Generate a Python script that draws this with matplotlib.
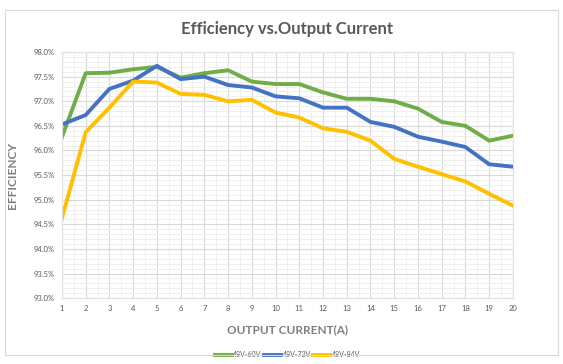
import matplotlib.pyplot as plt
from matplotlib.patches import Rectangle
from matplotlib.ticker import MultipleLocator, FuncFormatter

plt.rcParams['font.family'] = ['Lato', 'DejaVu Sans']

current = list(range(1, 21))
eff_60v = [96.27, 97.57, 97.58, 97.65, 97.70, 97.48, 97.57, 97.63, 97.40, 97.35,
           97.35, 97.18, 97.05, 97.05, 97.00, 96.85, 96.58, 96.50, 96.20, 96.30]
eff_72v = [96.53, 96.72, 97.25, 97.42, 97.72, 97.45, 97.50, 97.33, 97.28, 97.10,
           97.06, 96.87, 96.87, 96.58, 96.48, 96.28, 96.18, 96.07, 95.72, 95.67]
eff_84v = [94.62, 96.37, 96.87, 97.40, 97.38, 97.15, 97.13, 97.00, 97.03, 96.77,
           96.67, 96.45, 96.38, 96.20, 95.83, 95.67, 95.52, 95.37, 95.12, 94.88]
labels = ["48V-60V", "48V-72V", "48V-84V"]
colors = ["#70AD47", "#4472C4", "#FFC000"]

fig = plt.figure(figsize=(5.63, 3.64), dpi=100)
ax = fig.add_axes([0.110, 0.181, 0.801, 0.676])

# cadre du graphique
fig.patches.append(Rectangle((0.009, 0.025), 0.982, 0.948, transform=fig.transFigure,
                             fill=False, edgecolor="#d9d9d9", linewidth=0.8))

for serie, lab, c in zip([eff_60v, eff_72v, eff_84v], labels, colors):
    ax.plot(current, serie, color=c, linewidth=2.8, label=lab, solid_joinstyle="round")

ax.set_xlim(1, 20)
ax.set_ylim(93.0, 98.0)
ax.xaxis.set_major_locator(MultipleLocator(1))
ax.xaxis.set_minor_locator(MultipleLocator(0.5))
ax.yaxis.set_major_locator(MultipleLocator(0.5))
ax.yaxis.set_minor_locator(MultipleLocator(0.1))
ax.yaxis.set_major_formatter(FuncFormatter(lambda v, p: "%.1f%%" % v))

ax.grid(which="major", color="#d9d9d9", linewidth=0.8)
ax.grid(which="minor", color="#eeeeee", linewidth=0.6)
ax.set_axisbelow(True)
for s in ax.spines.values():
    s.set_color("#e0e0e0")
    s.set_linewidth(0.8)
ax.tick_params(which="both", length=0, colors="#595959", labelsize=5.5, pad=5)

ax.set_title("Efficiency vs.Output Current", fontsize=12, fontweight="bold",
             color="#595959", pad=13)
ax.set_xlabel("OUTPUT CURRENT(A)", fontsize=8.5, fontweight="bold", color="#7f7f7f", labelpad=9)
ax.set_ylabel("EFFICIENCY", fontsize=8.5, fontweight="bold", color="#7f7f7f", labelpad=11)

ax.legend(loc="center", bbox_to_anchor=(0.5, -0.23), ncol=3, frameon=False,
          fontsize=5, labelcolor="#595959", handlelength=2.5, columnspacing=0.3,
          handletextpad=0.2)

fig.savefig("out.png", dpi=100, facecolor="white")
